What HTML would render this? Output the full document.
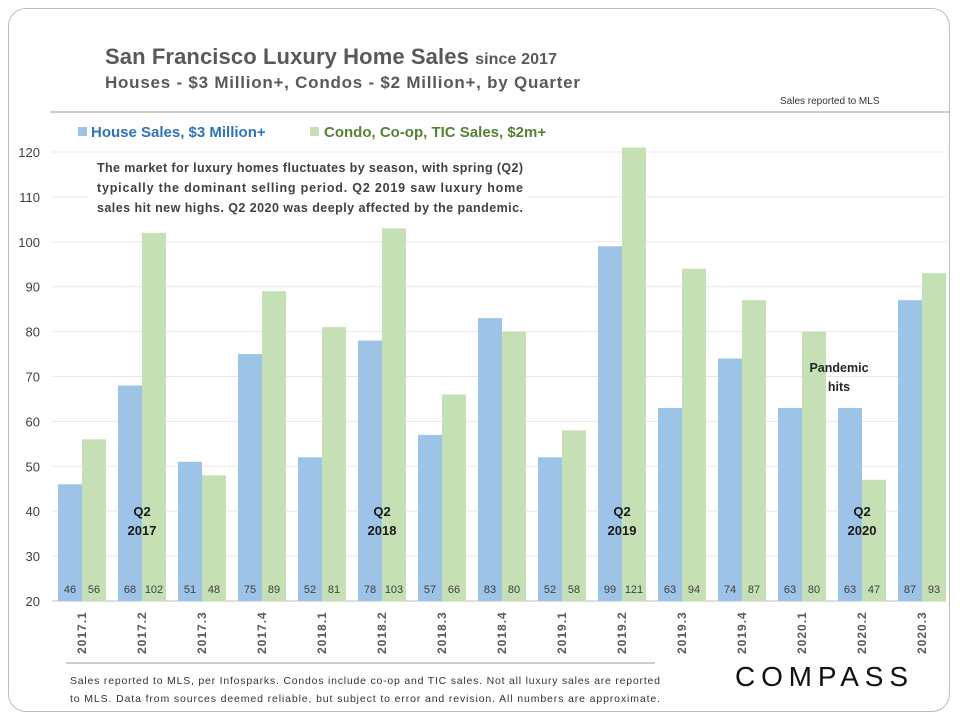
<!DOCTYPE html>
<html><head><meta charset="utf-8">
<style>
body{margin:0;background:#fff;width:960px;height:720px;overflow:hidden;font-family:"Liberation Sans",sans-serif}
#frame{position:absolute;left:8px;top:8px;width:940px;height:702px;border:1px solid #bdbdbd;border-radius:18px}
</style></head><body>
<div id="frame"></div>
<svg id="chart" width="960" height="720" style="position:absolute;left:0;top:0">
<text x="105" y="64" font-size="22" font-weight="bold" fill="#595959" textLength="452">San Francisco Luxury Home Sales <tspan font-size="16">since 2017</tspan></text>
<text x="105" y="88" font-size="17" font-weight="bold" fill="#595959" textLength="475">Houses - $3 Million+, Condos - $2 Million+, by Quarter</text>
<text x="780" y="104" font-size="10" fill="#333">Sales reported to MLS</text>
<line x1="50" y1="112" x2="950" y2="112" stroke="#999" stroke-width="1"/>
<g id="grid"></g>
<g id="bars"></g>
<rect x="78" y="127" width="9" height="9" fill="#9dc3e6"/>
<text x="91" y="137" font-size="15" font-weight="bold" fill="#2e75b6">House Sales, $3 Million+</text>
<rect x="310" y="127" width="9" height="9" fill="#c5e0b4"/>
<text x="324" y="137" font-size="15" font-weight="bold" fill="#548235">Condo, Co-op, TIC Sales, $2m+</text>
<rect x="88" y="153" width="440" height="62" fill="#fff"/>
<g font-size="12.5" font-weight="bold" fill="#404040">
<text x="97" y="172" textLength="426">The market for luxury homes fluctuates by season, with spring (Q2)</text>
<text x="97" y="192" textLength="426">typically the dominant selling period. Q2 2019 saw luxury home</text>
<text x="97" y="212" textLength="426">sales hit new highs. Q2 2020 was deeply affected by the pandemic.</text>
</g>
<g font-size="12.5" font-weight="bold" fill="#262626" text-anchor="middle">
<text x="839" y="372">Pandemic</text>
<text x="839" y="391">hits</text>
</g>
<g id="qlabels"></g>
<line x1="66" y1="663" x2="655" y2="663" stroke="#999"/>
<g font-size="10.5" fill="#333">
<text x="70" y="684" textLength="590">Sales reported to MLS, per Infosparks.  Condos include co-op and TIC sales. Not all luxury sales are reported</text>
<text x="70" y="702" textLength="590">to MLS. Data from sources deemed reliable, but subject to error and revision. All numbers are approximate.</text>
</g>
<text x="735" y="686" font-size="28" fill="#111" textLength="173">COMPASS</text>
</svg>
<script>
const categories=["2017.1","2017.2","2017.3","2017.4","2018.1","2018.2","2018.3","2018.4","2019.1","2019.2","2019.3","2019.4","2020.1","2020.2","2020.3"];
const houseSales=[46,68,51,75,52,78,57,83,52,99,63,74,63,63,87];
const condoSales=[56,102,48,89,81,103,66,80,58,121,94,87,80,47,93];
const yTicks=[20,30,40,50,60,70,80,90,100,110,120];
const q2Labels=[["2017.2","Q2","2017"],["2018.2","Q2","2018"],["2019.2","Q2","2019"],["2020.2","Q2","2020"]];
const NS="http://www.w3.org/2000/svg";
const y0=601,pxPer=4.49,bandX=52,bandW=60;
const yS=v=>y0-(v-20)*pxPer;
const xS=i=>bandX+i*bandW;
function mk(tag,attrs,parent,txt){const e=document.createElementNS(NS,tag);for(const k in attrs)e.setAttribute(k,attrs[k]);if(txt!==undefined)e.textContent=txt;parent.appendChild(e);return e;}
const grid=document.getElementById('grid'),bars=document.getElementById('bars'),ql=document.getElementById('qlabels');
yTicks.forEach(t=>{
 const l=mk('line',{x1:52,x2:946,y1:yS(t),y2:yS(t),stroke:t===20?'#bfbfbf':'#e8e8e8'},grid);
 
 
 const tx=mk('text',{x:40,y:yS(t)+5,'font-size':13,fill:'#404040','text-anchor':'end'},grid,t);
 
 
});
categories.forEach((c,i)=>{
 const x=xS(i);
 const hb=mk('rect',{x:x+6,y:yS(houseSales[i]),width:24,height:y0-yS(houseSales[i]),fill:'#9dc3e6'},bars);
 
 
 const cb=mk('rect',{x:x+30,y:yS(condoSales[i]),width:24,height:y0-yS(condoSales[i]),fill:'#c5e0b4'},bars);
 
 
 const hl=mk('text',{x:x+18,y:593,'font-size':11,fill:'#404040','text-anchor':'middle'},bars,houseSales[i]);
 
 
 const cl=mk('text',{x:x+42,y:593,'font-size':11,fill:'#404040','text-anchor':'middle'},bars,condoSales[i]);
 
 
 const xl=mk('text',{transform:`translate(${x+34},654) rotate(-90)`,'font-size':12,'font-weight':'bold',fill:'#595959','letter-spacing':'1'},bars,c);
 
 
});
q2Labels.forEach(q=>{
 const i=categories.indexOf(q[0]);const cx=xS(i)+30;
 const a=mk('text',{x:cx,y:516,'font-size':13,'font-weight':'bold',fill:'#1a1a1a','text-anchor':'middle'},ql,q[1]);
 
 
 const b=mk('text',{x:cx,y:535,'font-size':13,'font-weight':'bold',fill:'#1a1a1a','text-anchor':'middle'},ql,q[2]);
 
 
});
</script>
</body></html>
